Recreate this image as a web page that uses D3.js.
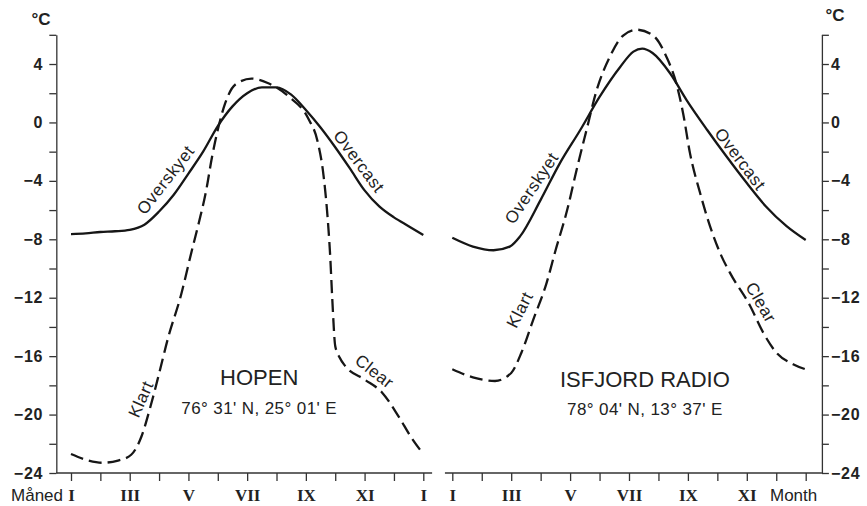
<!DOCTYPE html>
<html>
<head>
<meta charset="utf-8">
<script src="https://cdn.jsdelivr.net/npm/d3@7"></script>
<style>
  body { margin: 0; background: #fff; }
  svg { display: block; font-family: "Liberation Sans", Arial, Helvetica, sans-serif; }
  .axis path, .axis line { stroke: #333; stroke-width: 1.3; }
  .axis text { fill: #222; }
</style>
</head>
<body>
<svg id="chart" width="867" height="506"></svg>
<script>
// month index: 0 = January (I) ... 12 = January again
const monthTicks = d3.range(0, 13);
const hopenMonthLabels = ["I", "", "III", "", "V", "", "VII", "", "IX", "", "XI", "", "I"];
const isfjordMonthLabels = ["I", "", "III", "", "V", "", "VII", "", "IX", "", "XI", "", ""];
const tempTicks = d3.range(-24, 7, 2);

// HOPEN - overcast (solid)
const hopenOvercastMonth = [0, 0.5, 1, 1.5, 2, 2.5, 3, 3.5, 4, 4.5, 5, 5.5, 6, 6.5, 7, 7.5, 8, 8.5, 9, 9.5, 10, 10.5, 11, 11.5, 12];
const hopenOvercastTemp = [-7.65, -7.6, -7.5, -7.45, -7.35, -7.0, -6.1, -4.95, -3.5, -2.0, -0.25, 1.1, 2.0, 2.4, 2.4, 1.9, 0.85, -0.35, -1.7, -3.15, -4.65, -5.75, -6.5, -7.1, -7.7];

// HOPEN - clear (dashed)
const hopenClearMonth = [0, 0.6, 1.05, 1.6, 2.05, 2.4, 2.7, 3.0, 3.3, 3.75, 4.1, 4.35, 4.6, 4.8, 5.0, 5.25, 5.6, 6.15, 6.7, 7.4, 8.1, 8.4, 8.6, 8.72, 8.83, 8.9, 9.0, 9.15, 9.35, 10.0, 10.6, 11.15, 11.6, 12.0];
const hopenClearTemp = [-22.7, -23.15, -23.3, -23.15, -22.75, -21.5, -19.5, -17.2, -14.8, -11.8, -8.9, -6.9, -4.7, -2.4, -0.5, 1.3, 2.6, 3.0, 2.7, 1.8, 0.2, -1.3, -3.6, -6.0, -9.2, -12.1, -15.3, -16.1, -16.7, -17.6, -18.5, -20.1, -21.6, -22.7];

// ISFJORD RADIO - overcast (solid)
const isfjordOvercastMonth = [0, 0.7, 1.4, 1.95, 2.3, 3.0, 3.65, 4.35, 5.0, 5.7, 6.15, 6.45, 6.8, 7.4, 7.95, 8.65, 9.3, 10.0, 10.65, 11.35, 12.0];
const isfjordOvercastTemp = [-7.9, -8.5, -8.75, -8.5, -7.8, -5.3, -2.8, -0.5, 1.75, 3.8, 4.85, 5.05, 4.75, 3.35, 1.55, -0.5, -2.3, -4.15, -5.75, -7.1, -8.05];

// ISFJORD RADIO - clear (dashed)
const isfjordClearMonth = [0, 0.7, 1.45, 2.0, 2.35, 2.75, 3.2, 3.5, 3.9, 4.22, 4.56, 4.9, 5.35, 5.8, 6.26, 6.82, 7.27, 7.61, 7.84, 8.07, 8.41, 8.75, 9.14, 9.43, 10.11, 10.56, 11.0, 11.57, 12.0];
const isfjordClearTemp = [-16.9, -17.45, -17.7, -17.15, -15.75, -13.5, -11.0, -8.8, -6.0, -3.25, -0.5, 2.2, 4.5, 5.95, 6.35, 5.95, 4.5, 2.65, 0.6, -2.1, -4.8, -7.1, -9.15, -10.3, -12.55, -14.4, -15.75, -16.55, -16.9];

const svg = d3.select("#chart");
const font = "'Liberation Sans', Arial, Helvetica, sans-serif";

const y = d3.scaleLinear().domain([-24, 6]).range([473, 34.8]);
const xHopen = d3.scaleLinear().domain([0, 12]).range([71, 423.3]);
const xIsfjord = d3.scaleLinear().domain([0, 12]).range([452.3, 805.7]);

function zip(a, b) { return a.map((d, i) => [d, b[i]]); }

function drawPanel(x, extent, monthLabels, series, notes, title, coords) {
  // baseline of the panel
  svg.append("line")
    .attr("x1", x(extent[0])).attr("x2", x(extent[1]))
    .attr("y1", y(-24)).attr("y2", y(-24))
    .attr("stroke", "#333").attr("stroke-width", 1.3);

  svg.append("g")
    .attr("class", "axis")
    .attr("transform", "translate(0," + y(-24) + ")")
    .call(d3.axisBottom(x).tickValues(monthTicks).tickSize(8).tickPadding(8)
      .tickFormat((d, i) => monthLabels[i]))
    .call(g => g.select(".domain").remove())
    .selectAll("text")
      .style("font-family", "'Liberation Serif', 'Times New Roman', serif")
      .style("font-weight", "bold")
      .style("font-size", "17px");

  const line = d3.line()
    .x(d => x(d[0]))
    .y(d => y(d[1]))
    .curve(d3.curveMonotoneX);

  series.forEach(s => {
    svg.append("path")
      .attr("d", line(s.points))
      .attr("fill", "none")
      .attr("stroke", "#161616")
      .attr("stroke-width", 2.3)
      .attr("stroke-dasharray", s.dashed ? "13,6" : null);
  });

  notes.forEach(n => {
    svg.append("text")
      .attr("transform", "translate(" + x(n[1]) + "," + y(n[2]) + ") rotate(" + n[3] + ")")
      .attr("text-anchor", "middle")
      .attr("dominant-baseline", "central")
      .attr("fill", "#222")
      .style("font-size", "17px")
      .style("letter-spacing", "0.6px")
      .text(n[0]);
  });

  svg.append("text")
    .attr("x", x(title[1])).attr("y", y(title[2]))
    .attr("text-anchor", "middle").attr("dominant-baseline", "central")
    .attr("fill", "#222").style("font-size", "22px")
    .text(title[0]);

  svg.append("text")
    .attr("x", x(coords[1])).attr("y", y(coords[2]))
    .attr("text-anchor", "middle").attr("dominant-baseline", "central")
    .attr("fill", "#222").style("font-size", "17px").style("letter-spacing", "0.4px")
    .text(coords[0]);
}

drawPanel(xHopen, [-0.5, 12.3], hopenMonthLabels,
  [{ points: zip(hopenOvercastMonth, hopenOvercastTemp), dashed: false },
   { points: zip(hopenClearMonth, hopenClearTemp), dashed: true }],
  [["Overskyet", 3.23, -3.94, -52], ["Overcast", 9.8, -2.68, 53],
   ["Klart", 2.39, -18.95, -66], ["Clear", 10.33, -17.06, 38]],
  ["HOPEN", 6.41, -17.49], ["76° 31' N, 25° 01' E", 6.41, -19.6]);

drawPanel(xIsfjord, [-0.25, 12.55], isfjordMonthLabels,
  [{ points: zip(isfjordOvercastMonth, isfjordOvercastTemp), dashed: false },
   { points: zip(isfjordClearMonth, isfjordClearTemp), dashed: true }],
  [["Overskyet", 2.7, -4.5, -56], ["Overcast", 9.77, -2.52, 53],
   ["Klart", 2.3, -12.83, -63], ["Clear", 10.47, -12.33, 60]],
  ["ISFJORD RADIO", 6.54, -17.62], ["78° 04' N, 13° 37' E", 6.54, -19.68]);

// temperature axes
const tempFormat = d => d % 4 === 0 ? d3.format("")(d) : "";

svg.append("g")
  .attr("class", "axis")
  .attr("transform", "translate(" + xHopen(-0.5) + ",0)")
  .call(d3.axisLeft(y).tickValues(tempTicks).tickSize(7).tickPadding(6).tickSizeOuter(0).tickFormat(tempFormat))
  .selectAll("text")
    .style("font-family", font).style("font-weight", "bold").style("font-size", "16px")
    .style("letter-spacing", "0.8px");

svg.append("g")
  .attr("class", "axis")
  .attr("transform", "translate(" + xIsfjord(12.55) + ",0)")
  .call(d3.axisRight(y).tickValues(tempTicks).tickSize(7).tickPadding(2).tickSizeOuter(0).tickFormat(tempFormat))
  .selectAll("text")
    .style("font-family", font).style("font-weight", "bold").style("font-size", "16px")
    .style("letter-spacing", "0.8px");

// unit and month captions
svg.append("text").attr("x", 41).attr("y", 19)
  .attr("text-anchor", "middle").attr("dominant-baseline", "central")
  .attr("fill", "#222").style("font-weight", "bold").style("font-size", "17px").text("°C");
svg.append("text").attr("x", 835).attr("y", 15)
  .attr("text-anchor", "middle").attr("dominant-baseline", "central")
  .attr("fill", "#222").style("font-weight", "bold").style("font-size", "17px").text("°C");
svg.append("text").attr("x", 63).attr("y", 501)
  .attr("text-anchor", "end").attr("fill", "#222").style("font-size", "17px").text("Måned");
svg.append("text").attr("x", 770).attr("y", 501)
  .attr("text-anchor", "start").attr("fill", "#222").style("font-size", "17px").text("Month");
</script>
</body>
</html>
